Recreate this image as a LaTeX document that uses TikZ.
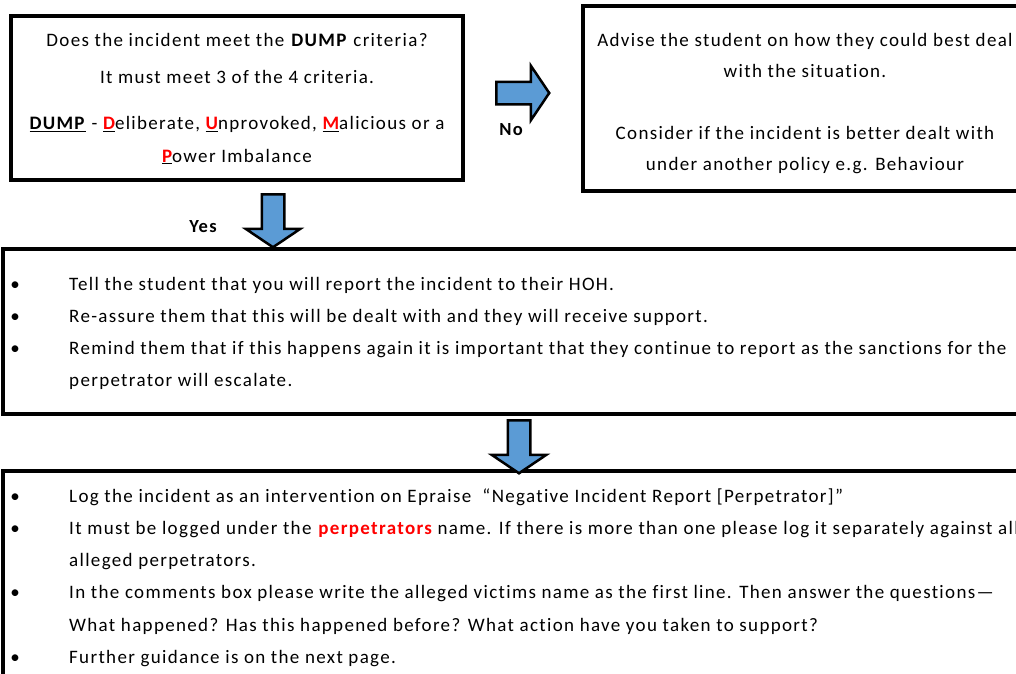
\documentclass[tikz,border=0pt]{standalone}
\usepackage{fontspec}
\setmainfont{Carlito}[Ligatures=NoCommon, LetterSpace=7]
\usetikzlibrary{shapes.arrows}
\definecolor{flecheblue}{RGB}{91,155,213}
\definecolor{critred}{RGB}{255,0,0}
\newcommand{\critlettre}[1]{\underline{\textbf{\textcolor{critred}{#1}}}}
\newcommand{\puce}{\makebox[0pt]{\textbullet}}

\begin{document}
\begin{tikzpicture}[x=1pt,y=-1pt]
	% STYLES
	\tikzstyle{cadre} = [draw=black, line width=4pt, rectangle, anchor=north west, inner sep=0pt]
	\tikzstyle{fleche} = [single arrow, draw=black, line width=2.5pt, fill=flecheblue,
		inner xsep=0pt, inner ysep=10pt, single arrow head extend=16pt,
		single arrow tip angle=112, minimum height=53pt, anchor=tail]
	\tikzstyle{texte} = [inner sep=0pt, font=\fontsize{19}{32.3}\selectfont]
	\tikzstyle{choix} = [inner sep=0pt, font=\fontsize{18.5}{20}\selectfont\bfseries]

	\fill[white] (0,0) rectangle (1016,673);
	\useasboundingbox (0,0) rectangle (1016,673);

	% CADRES
	\node[cadre, minimum width=452pt, minimum height=164pt] at (9,14) (dump) {};
	\node[cadre, minimum width=460pt, minimum height=185pt] at (581,4) (advise) {};
	\node[cadre, minimum width=1040pt, minimum height=165pt] at (1,247) (tell) {};
	\node[cadre, minimum width=1040pt, minimum height=300pt] at (1,469) (log) {};

	% FLECHES
	\node[fleche] at (495,93) (nofleche) {};
	\node[fleche, rotate=-90] at (273,193) (yesfleche) {};
	\node[fleche, rotate=-90] at (519,419) (logfleche) {};
	\node[choix] at (511,130) (no) {No};
	\node[choix] at (203,227) (yes) {Yes};

	% TEXTES
	\node[texte, align=center, anchor=base] at (237,162) (dumptext) {%
		Does the incident meet the \textbf{DUMP} criteria?\\[4.7pt]
		It must meet 3 of the 4 criteria.\\[13.7pt]
		\underline{\textbf{DUMP}} - \critlettre{D}eliberate, \critlettre{U}nprovoked, \critlettre{M}alicious or a\\
		\critlettre{P}ower Imbalance};
	\node[texte, align=center, anchor=base] at (805,170.5) (advisetext) {%
		Advise the student on how they could best deal\\[-1.3pt]
		with the situation.\\[-1.3pt]
		\mbox{}\\[-1.3pt]
		Consider if the incident is better dealt with\\[-1.3pt]
		under another policy e.g. Behaviour};
	\node[texte, anchor=base west] at (15,290) (telltext) {%
		\begin{tabular}[t]{@{}p{54pt}@{}l@{}}
		\puce & Tell the student that you will report the incident to their HOH.\\
		\puce & Re-assure them that this will be dealt with and they will receive support.\\
		\puce & Remind them that if this happens again it is important that they continue to report as the sanctions for the\\
		& perpetrator will escalate.
		\end{tabular}};
	\node[texte, anchor=base west] at (15,502) (logtext) {%
		\begin{tabular}[t]{@{}p{54pt}@{}l@{}}
		\puce & Log the incident as an intervention on Epraise\ \ “Negative Incident Report [Perpetrator]”\\
		\puce & It must be logged under the \textbf{\textcolor{critred}{perpetrators}} name. If there is more than one please log it separately against all\\
		& alleged perpetrators.\\
		\puce & In the comments box please write the alleged victims name as the first line. Then answer the questions—\\
		& What happened? Has this happened before? What action have you taken to support?\\
		\puce & Further guidance is on the next page.
		\end{tabular}};
\end{tikzpicture}
\end{document}
